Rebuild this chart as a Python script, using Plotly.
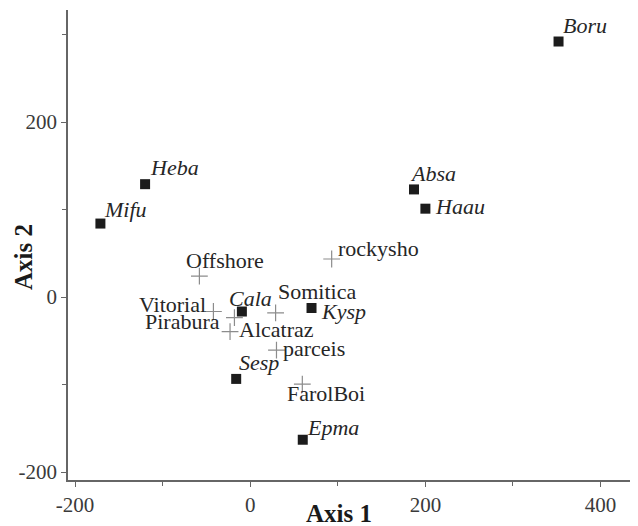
import plotly.graph_objects as go

# ---- data ----
species = ["Boru", "Absa", "Haau", "Heba", "Mifu", "Cala", "Kysp", "Sesp", "Epma"]
species_x = [352, 187, 200, -120, -171, -9.5, 70, -16, 60]
species_y = [292, 123, 101, 129, 84, -16.5, -12.5, -93.5, -163]

sites = ["Offshore", "rockysho", "Vitorial", "Pirabura", "Somitica", "Alcatraz", "parceis", "FarolBoi"]
sites_x = [-58, 93, -42, -18, 29, -23, 30, 59.5]
sites_y = [24, 43.5, -16.5, -23.5, -18, -39.5, -60.5, -99.5]

x_ticks = [-200, 0, 200, 400]
y_ticks = [-200, 0, 200]

# ---- label placement (styles: anchor side, pixel offsets of the text's visual centre) ----
species_lab = [("left", 2, -14), ("left", -6, -14), ("left", 8, 0), ("left", 3, -15),
               ("left", 2, -12), ("left", -15, -11), ("left", 7, 5), ("left", 1, -14),
               ("left", 2, -10)]
sites_lab = [("left", -15, -13.5), ("left", 4.6, -9), ("right", -5, -4.7), ("right", -12.6, 6.3),
             ("left", 0, -19.4), ("left", 6.7, 0), ("left", 5, 0), ("left", -17.3, 11.5)]

FONT = "Liberation Serif"
TXT = "#262626"
LAB_SIZE = 22
CAP_ADJ = 2  # box centre vs. visual centre of caps

fig = go.Figure()
fig.add_trace(go.Scatter(
    x=sites_x, y=sites_y, mode="markers", name="sites",
    marker=dict(symbol="cross-thin", size=12, line=dict(color="#8c8c8c", width=1.2)),
    hoverinfo="text", text=sites))
fig.add_trace(go.Scatter(
    x=species_x, y=species_y, mode="markers", name="species",
    marker=dict(symbol="square", size=10, color="#1c1c1c", line=dict(width=0)),
    hoverinfo="text", text=species))

anns = []
for names, xs, ys, labs, italic in ((species, species_x, species_y, species_lab, True),
                                    (sites, sites_x, sites_y, sites_lab, False)):
    for n, xv, yv, (side, dx, dy) in zip(names, xs, ys, labs):
        anns.append(dict(x=xv, y=yv, xref="x", yref="y", showarrow=False,
                         text=f"<i>{n}</i>" if italic else n,
                         xanchor=side, yanchor="middle",
                         xshift=dx, yshift=-dy + CAP_ADJ,
                         font=dict(family=FONT, size=LAB_SIZE, color=TXT)))

# axis titles
anns.append(dict(text="<b>Axis 1</b>", xref="paper", yref="paper", x=0.48, y=-0.0723,
                 xanchor="center", yanchor="middle", showarrow=False,
                 font=dict(family=FONT, size=25, color="#1a1a1a")))
anns.append(dict(text="<b>Axis 2</b>", xref="paper", yref="paper", x=-0.0779, y=0.4745,
                 xanchor="center", yanchor="middle", showarrow=False, textangle=-90,
                 font=dict(family=FONT, size=25, color="#1a1a1a")))

axis_common = dict(
    showline=True, linecolor="#666666", linewidth=1.5, mirror=False,
    showgrid=False, zeroline=False, automargin=False,
    ticks="outside", ticklen=5, tickwidth=1.2, tickcolor="#666666",
    tickfont=dict(family=FONT, size=21, color="#3a3a3a"),
)

# the page body adds an 8 px margin, so the figure is drawn 8 px smaller
fig.update_layout(
    width=630, height=518,
    margin=dict(l=60, r=5, t=2, b=46),
    plot_bgcolor="white", paper_bgcolor="white",
    showlegend=False,
    annotations=anns,
    xaxis=dict(range=[-208, 437], tickvals=x_ticks, ticktext=[str(v) for v in x_ticks],
               minor=dict(ticks="outside", ticklen=4, tickwidth=1.2, tickcolor="#666666",
                          tickvals=[-100, 100, 300]),
               **axis_common),
    yaxis=dict(range=[-209, 328], tickvals=y_ticks, ticktext=[str(v) for v in y_ticks],
               minor=dict(ticks="outside", ticklen=4, tickwidth=1.2, tickcolor="#666666",
                          tickvals=[-100, 100, 300]),
               **axis_common),
)

fig.write_html("out.html")
